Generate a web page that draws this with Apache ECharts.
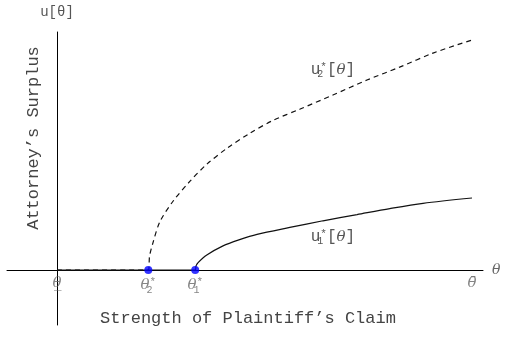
<!DOCTYPE html>
<html>
<head>
<meta charset="utf-8">
<script src="https://cdn.jsdelivr.net/npm/echarts@6/dist/echarts.min.js"></script>
<style>
  html, body { margin: 0; padding: 0; background: #fff; }
  #chart { width: 508px; height: 338px; }
</style>
</head>
<body>
<div id="chart"></div>
<script>
// theta positions on the x axis
const thetaLow = 0
const theta2 = 0.22
const theta1 = 0.333
const thetaHigh = 1

// u2*[theta] (dashed)
const u2Data = [
  [0, 0], [0.22, 0], [0.223, 0.06], [0.231, 0.117], [0.248, 0.21], [0.28, 0.3],
  [0.32, 0.385], [0.361, 0.46], [0.41, 0.53], [0.465, 0.595], [0.52, 0.65],
  [0.586, 0.7], [0.665, 0.761], [0.747, 0.826], [0.827, 0.883], [0.906, 0.943], [1, 1]
]

// u1*[theta] (solid)
const u1Data = [
  [0, 0], [0.333, 0], [0.335, 0.018], [0.34, 0.032], [0.361, 0.065], [0.4, 0.105],
  [0.44, 0.132], [0.482, 0.155], [0.561, 0.185], [0.641, 0.214], [0.723, 0.241],
  [0.802, 0.267], [0.882, 0.29], [1, 0.313]
]

const dots = [[theta2, 0], [theta1, 0]]

const tickValues = [thetaLow, theta2, theta1, thetaHigh]
const tickLabels = ['{t|θ̲}', '{t|θ}{sb|2}{sp|*}', '{t|θ}{sb|1}{sp|*}', '{t|θ̄}']

const mono = 'Liberation Mono'
const greek = 'DejaVu Serif'
const labelGrey = '#666'

const tickRich = {
  t: { fontFamily: greek, fontStyle: 'italic', fontSize: 15, color: labelGrey },
  sb: { fontFamily: mono, fontSize: 10, color: labelGrey, padding: [9, 0, 0, 0], width: 0 },
  sp: { fontFamily: mono, fontSize: 11, color: labelGrey, padding: [0, 0, 6, 0] }
}

const curveRich = {
  t: { fontFamily: greek, fontStyle: 'italic', fontSize: 15, color: '#555' },
  sb: { fontFamily: mono, fontSize: 10, color: '#555', padding: [9, 0, 0, 0], width: 0 },
  sp: { fontFamily: mono, fontSize: 11, color: '#555', padding: [0, 0, 6, 0] }
}

const chart = echarts.init(document.getElementById('chart'))

const option = {
  animation: false,
  grid: { left: 7, right: 25, top: 32, bottom: 13, outerBoundsMode: 'none', containLabel: false },
  xAxis: {
    type: 'value',
    min: -0.1205,
    max: 1.0265,
    name: 'θ',
    nameLocation: 'end',
    nameGap: 9,
    nameTextStyle: { fontFamily: greek, fontStyle: 'italic', fontSize: 14, color: labelGrey, verticalAlign: 'middle' },
    axisLine: { onZero: true, lineStyle: { color: '#000', width: 1 } },
    axisTick: { show: false },
    axisLabel: { show: false },
    splitLine: { show: false }
  },
  yAxis: {
    type: 'value',
    min: -0.2391,
    max: 1.0348,
    name: 'u[θ]',
    nameLocation: 'end',
    nameGap: 13,
    nameTextStyle: { fontFamily: mono, fontSize: 14, color: '#555' },
    axisLine: { onZero: true, lineStyle: { color: '#000', width: 1 } },
    axisTick: { show: false },
    axisLabel: { show: false },
    splitLine: { show: false }
  },
  graphic: [
    {
      type: 'text',
      x: 33,
      y: 138,
      rotation: Math.PI / 2,
      style: {
        text: 'Attorney\u2019s Surplus',
        font: '17px "Liberation Mono"',
        fill: '#444',
        textAlign: 'center',
        textVerticalAlign: 'middle',
        align: 'center',
        verticalAlign: 'middle'
      }
    },
    {
      type: 'text',
      x: 248,
      y: 318,
      style: {
        text: 'Strength of Plaintiff\u2019s Claim',
        font: '17px "Liberation Mono"',
        fill: '#444',
        textAlign: 'center',
        textVerticalAlign: 'middle',
        align: 'center',
        verticalAlign: 'middle'
      }
    }
  ],
  series: [
    {
      name: 'u1',
      type: 'line',
      data: u1Data,
      smooth: 0.3,
      showSymbol: false,
      lineStyle: { color: '#111', width: 1.2 },
      markPoint: {
        symbol: 'circle',
        symbolSize: 0,
        data: [{ coord: [0.665, 0.143] }],
        label: {
          show: true,
          formatter: 'u{sb|1}{sp|*}[{t|θ}]',
          fontFamily: mono,
          fontSize: 16,
          color: '#555',
          rich: curveRich
        }
      }
    },
    {
      name: 'u2',
      type: 'line',
      data: u2Data,
      smooth: 0.3,
      showSymbol: false,
      lineStyle: { color: '#111', width: 1.2, type: [5, 4] },
      markPoint: {
        symbol: 'circle',
        symbolSize: 0,
        data: [{ coord: [0.665, 0.87] }],
        label: {
          show: true,
          formatter: 'u{sb|2}{sp|*}[{t|θ}]',
          fontFamily: mono,
          fontSize: 16,
          color: '#555',
          rich: curveRich
        }
      }
    },
    {
      name: 'ticks',
      type: 'scatter',
      data: tickValues.map(v => [v, 0]),
      symbolSize: 0,
      silent: true,
      label: {
        show: true,
        position: 'bottom',
        distance: 6,
        formatter: (p) => tickLabels[p.dataIndex],
        rich: tickRich
      }
    },
    {
      name: 'thresholds',
      type: 'scatter',
      data: dots,
      symbolSize: 8,
      itemStyle: { color: '#0000ff' },
      z: 5
    }
  ]
}

chart.setOption(option)
</script>
</body>
</html>
